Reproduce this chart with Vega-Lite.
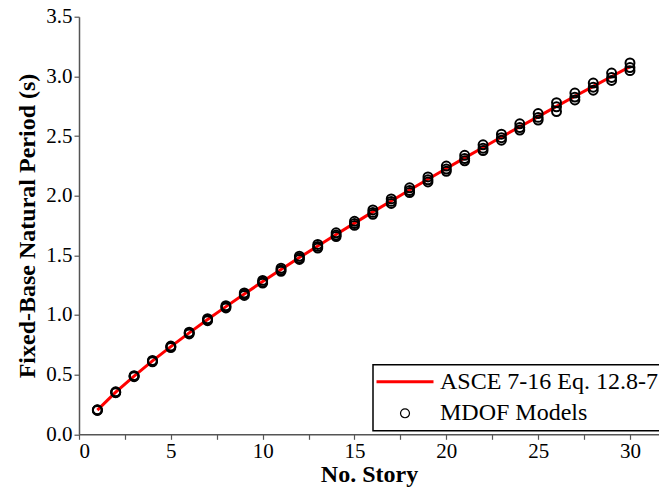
{
  "$schema": "https://vega.github.io/schema/vega-lite/v6.json",
  "width": 580,
  "height": 417.6,
  "autosize": {"type": "none"},
  "padding": {"left": 79, "top": 16.7, "right": 0, "bottom": 52.7},
  "background": "white",
  "config": {
    "view": {"stroke": null},
    "font": "Liberation Serif",
    "axis": {
      "grid": false,
      "domainColor": "#555555",
      "domainWidth": 1.5,
      "tickColor": "#555555",
      "tickWidth": 1.2,
      "tickSize": 5,
      "labelFont": "Liberation Serif",
      "labelFontSize": 21,
      "labelColor": "#000000",
      "titleFont": "Liberation Serif",
      "titleFontSize": 24,
      "titleFontWeight": "bold",
      "titleColor": "#000000"
    },
    "legend": {
      "orient": "none",
      "legendX": 294,
      "legendY": 348,
      "strokeColor": "#000000",
      "strokeWidth": 1.5,
      "padding": 5,
      "symbolOffset": 15,
      "labelOffset": 23,
      "labelFont": "Liberation Serif",
      "labelFontSize": 24,
      "labelColor": "#000000",
      "labelLimit": 0,
      "rowPadding": 7.6,
      "symbolSize": 80
    }
  },
  "datasets": {
    "asce": [
      {"story": 1, "T": 0.203}, {"story": 2, "T": 0.353}, {"story": 3, "T": 0.488},
      {"story": 4, "T": 0.615}, {"story": 5, "T": 0.735}, {"story": 6, "T": 0.85},
      {"story": 7, "T": 0.962}, {"story": 8, "T": 1.07}, {"story": 9, "T": 1.176},
      {"story": 10, "T": 1.28}, {"story": 11, "T": 1.381}, {"story": 12, "T": 1.481},
      {"story": 13, "T": 1.578}, {"story": 14, "T": 1.675}, {"story": 15, "T": 1.77},
      {"story": 16, "T": 1.864}, {"story": 17, "T": 1.956}, {"story": 18, "T": 2.048},
      {"story": 19, "T": 2.138}, {"story": 20, "T": 2.228}, {"story": 21, "T": 2.317},
      {"story": 22, "T": 2.404}, {"story": 23, "T": 2.492}, {"story": 24, "T": 2.578},
      {"story": 25, "T": 2.663}, {"story": 26, "T": 2.748}, {"story": 27, "T": 2.833},
      {"story": 28, "T": 2.916}, {"story": 29, "T": 2.999}, {"story": 30, "T": 3.082}
    ],
    "mdof": [
      {"story": 1, "T": 0.205}, {"story": 1, "T": 0.203}, {"story": 1, "T": 0.2},
      {"story": 2, "T": 0.356}, {"story": 2, "T": 0.352}, {"story": 2, "T": 0.349},
      {"story": 3, "T": 0.492}, {"story": 3, "T": 0.487}, {"story": 3, "T": 0.483},
      {"story": 4, "T": 0.619}, {"story": 4, "T": 0.613}, {"story": 4, "T": 0.608},
      {"story": 5, "T": 0.74}, {"story": 5, "T": 0.733}, {"story": 5, "T": 0.727},
      {"story": 6, "T": 0.856}, {"story": 6, "T": 0.848}, {"story": 6, "T": 0.841},
      {"story": 7, "T": 0.969}, {"story": 7, "T": 0.96}, {"story": 7, "T": 0.952},
      {"story": 8, "T": 1.078}, {"story": 8, "T": 1.068}, {"story": 8, "T": 1.059},
      {"story": 9, "T": 1.185}, {"story": 9, "T": 1.173}, {"story": 9, "T": 1.164},
      {"story": 10, "T": 1.29}, {"story": 10, "T": 1.277}, {"story": 10, "T": 1.267},
      {"story": 11, "T": 1.392}, {"story": 11, "T": 1.378}, {"story": 11, "T": 1.366},
      {"story": 12, "T": 1.493}, {"story": 12, "T": 1.478}, {"story": 12, "T": 1.465},
      {"story": 13, "T": 1.591}, {"story": 13, "T": 1.575}, {"story": 13, "T": 1.561},
      {"story": 14, "T": 1.689}, {"story": 14, "T": 1.671}, {"story": 14, "T": 1.657},
      {"story": 15, "T": 1.785}, {"story": 15, "T": 1.766}, {"story": 15, "T": 1.751},
      {"story": 16, "T": 1.88}, {"story": 16, "T": 1.86}, {"story": 16, "T": 1.844},
      {"story": 17, "T": 1.973}, {"story": 17, "T": 1.952}, {"story": 17, "T": 1.935},
      {"story": 18, "T": 2.066}, {"story": 18, "T": 2.043}, {"story": 18, "T": 2.026},
      {"story": 19, "T": 2.157}, {"story": 19, "T": 2.133}, {"story": 19, "T": 2.115},
      {"story": 20, "T": 2.248}, {"story": 20, "T": 2.223}, {"story": 20, "T": 2.204},
      {"story": 21, "T": 2.338}, {"story": 21, "T": 2.311}, {"story": 21, "T": 2.292},
      {"story": 22, "T": 2.426}, {"story": 22, "T": 2.398}, {"story": 22, "T": 2.378},
      {"story": 23, "T": 2.515}, {"story": 23, "T": 2.486}, {"story": 23, "T": 2.465},
      {"story": 24, "T": 2.602}, {"story": 24, "T": 2.571}, {"story": 24, "T": 2.55},
      {"story": 25, "T": 2.688}, {"story": 25, "T": 2.656}, {"story": 25, "T": 2.634},
      {"story": 26, "T": 2.78}, {"story": 26, "T": 2.745}, {"story": 26, "T": 2.705},
      {"story": 27, "T": 2.86}, {"story": 27, "T": 2.826}, {"story": 27, "T": 2.802},
      {"story": 28, "T": 2.944}, {"story": 28, "T": 2.909}, {"story": 28, "T": 2.884},
      {"story": 29, "T": 3.028}, {"story": 29, "T": 2.991}, {"story": 29, "T": 2.966},
      {"story": 30, "T": 3.112}, {"story": 30, "T": 3.074}, {"story": 30, "T": 3.048}
    ]
  },
  "layer": [
    {
      "data": {"name": "asce"},
      "mark": {"type": "line", "strokeWidth": 3},
      "encoding": {
        "x": {
          "field": "story", "type": "quantitative",
          "scale": {"domain": [0, 31.58], "nice": false, "zero": false},
          "axis": {
            "title": "No. Story",
            "values": [0, 2.5, 5, 7.5, 10, 12.5, 15, 17.5, 20, 22.5, 25, 27.5, 30],
            "labelExpr": "datum.value % 5 === 0 ? datum.label : ''",
            "labelPadding": 1,
            "titlePadding": 1,
            "encode": {"ticks": {"update": {"y2": {"signal": "datum.value % 5 === 0 ? 5 : 2.5"}}}}
          }
        },
        "y": {
          "field": "T", "type": "quantitative",
          "scale": {"domain": [0, 3.5], "nice": false},
          "axis": {
            "title": "Fixed-Base Natural Period (s)",
            "values": [0, 0.25, 0.5, 0.75, 1, 1.25, 1.5, 1.75, 2, 2.25, 2.5, 2.75, 3, 3.25, 3.5],
            "labelExpr": "datum.value % 0.5 === 0 ? format(datum.value, '.1f') : ''",
            "labelPadding": 2,
            "titlePadding": 6,
            "encode": {"ticks": {"update": {"x2": {"signal": "datum.value % 0.5 === 0 ? -5 : -2.5"}}}}
          }
        },
        "color": {
          "datum": "ASCE 7-16 Eq. 12.8-7",
          "type": "nominal",
          "scale": {"domain": ["ASCE 7-16 Eq. 12.8-7", "MDOF Models"], "range": ["#ff0000", "#000000"]},
          "legend": {
            "title": null,
            "encode": {
              "symbols": {
                "update": {
                  "shape": {"signal": "datum.value === 'MDOF Models' ? 'circle' : 'stroke'"},
                  "size": {"signal": "datum.value === 'MDOF Models' ? 80 : 3249"},
                  "strokeWidth": {"signal": "datum.value === 'MDOF Models' ? 1.2 : 3"},
                  "fill": {"value": "transparent"},
                  "stroke": {"signal": "datum.value === 'MDOF Models' ? '#000000' : '#ff0000'"},
                  "opacity": {"value": 1}
                }
              }
            }
          }
        }
      }
    },
    {
      "data": {"name": "mdof"},
      "mark": {"type": "point", "shape": "circle", "filled": false, "size": 80, "strokeWidth": 2, "opacity": 1},
      "encoding": {
        "x": {"field": "story", "type": "quantitative"},
        "y": {"field": "T", "type": "quantitative"},
        "color": {"datum": "MDOF Models", "type": "nominal"}
      }
    }
  ]
}
